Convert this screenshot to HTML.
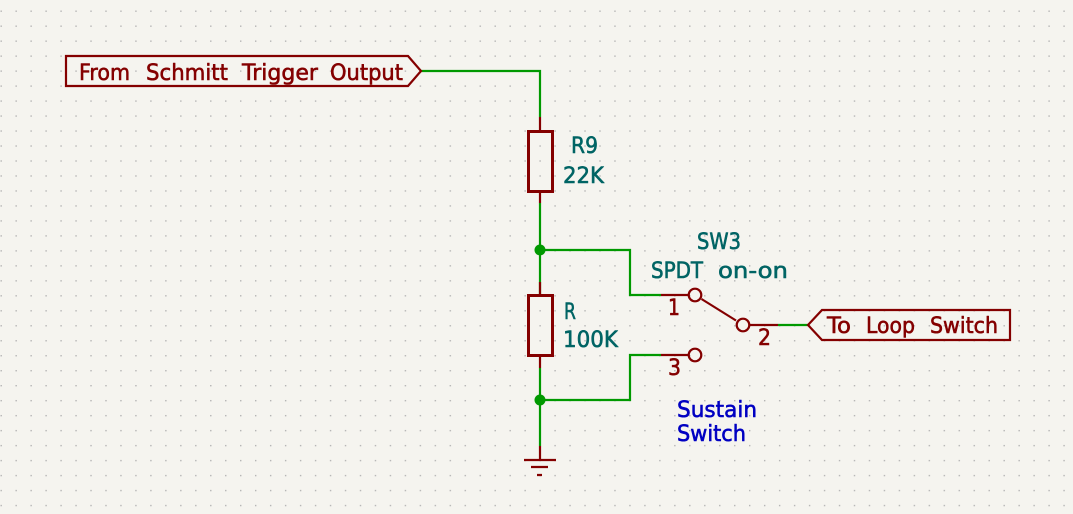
<!DOCTYPE html>
<html><head><meta charset="utf-8"><style>
html,body{margin:0;padding:0;background:#f5f4ef}
svg{display:block}
text{font-family:"DejaVu Sans","Liberation Sans",sans-serif;font-size:22.5px;stroke-width:.6px;stroke-linejoin:round}
.r{fill:#840000;stroke:#840000}.t{fill:#006464;stroke:#006464}.b{fill:#0000c2;stroke:#0000c2}
</style></head><body>
<svg width="1073" height="514" viewBox="0 0 1073 514" xmlns="http://www.w3.org/2000/svg">
<defs><pattern id="g" x="0.5" y="10.5" width="14.97" height="14.98" patternUnits="userSpaceOnUse"><rect width="1.4" height="1.4" fill="#b4b4b4"/></pattern></defs>
<rect width="1073" height="514" fill="#f5f4ef"/>
<rect width="1073" height="514" fill="url(#g)"/>

<!-- wires -->
<g fill="none" stroke="#009900" stroke-width="2.2">
<path d="M420 71H540V117"/>
<path d="M540 203V295"/>
<path d="M540 250H630V295H661"/>
<path d="M540 368V446"/>
<path d="M540 400H630V355H661"/>
<path d="M778 325H808"/>
</g>
<circle cx="540" cy="250" r="5.500" fill="#009900"/>
<circle cx="540" cy="400" r="5.500" fill="#009900"/>

<!-- symbols -->
<g fill="none" stroke="#840000" stroke-width="2.200">
<path d="M540 117V130M540 192V203"/>
<path d="M540 282V295M540 356V368"/>
<path d="M661 295H689M661 355H689M749 325H778"/>
<path d="M701.500 299L736 320.500"/>
<circle cx="695" cy="295" r="6.300"/>
<circle cx="743" cy="325" r="6.300"/>
<circle cx="695" cy="355" r="6.300"/>
<path d="M540 446V460M524 460H556M531 467H548M537 475H542"/>
<path d="M66 56H408L421 71L408 86H66Z"/>
<path d="M808 325L822 310H1010V340H822Z"/>
</g>
<g fill="none" stroke="#840000" stroke-width="3">
<rect x="528.500" y="131.500" width="24" height="60"/>
<rect x="528.500" y="295.500" width="24" height="60"/>
</g>

<!-- labels -->
<g class="r">
<text x="79" y="80" textLength="51" lengthAdjust="spacingAndGlyphs">From</text>
<text x="146" y="80" textLength="82" lengthAdjust="spacingAndGlyphs">Schmitt</text>
<text x="242" y="80" textLength="76" lengthAdjust="spacingAndGlyphs">Trigger</text>
<text x="330" y="80" textLength="73" lengthAdjust="spacingAndGlyphs">Output</text>
<text x="827" y="333" textLength="24" lengthAdjust="spacingAndGlyphs">To</text>
<text x="866" y="333" textLength="49" lengthAdjust="spacingAndGlyphs">Loop</text>
<text x="930" y="333" textLength="68" lengthAdjust="spacingAndGlyphs">Switch</text>
<text x="668" y="315" textLength="12" lengthAdjust="spacingAndGlyphs">1</text>
<text x="758" y="345" textLength="13" lengthAdjust="spacingAndGlyphs">2</text>
<text x="668" y="375" textLength="13" lengthAdjust="spacingAndGlyphs">3</text>
</g>
<g class="t">
<text x="571" y="153" textLength="27" lengthAdjust="spacingAndGlyphs">R9</text>
<text x="563" y="183" textLength="41" lengthAdjust="spacingAndGlyphs">22K</text>
<text x="564" y="319" textLength="12" lengthAdjust="spacingAndGlyphs">R</text>
<text x="563" y="347" textLength="55" lengthAdjust="spacingAndGlyphs">100K</text>
<text x="697" y="249" textLength="44" lengthAdjust="spacingAndGlyphs">SW3</text>
<text x="651" y="278" textLength="52" lengthAdjust="spacingAndGlyphs">SPDT</text>
<text x="718" y="278" textLength="70" lengthAdjust="spacingAndGlyphs">on-on</text>
</g>
<g class="b">
<text x="677" y="417" textLength="80" lengthAdjust="spacingAndGlyphs">Sustain</text>
<text x="677" y="441" textLength="69" lengthAdjust="spacingAndGlyphs">Switch</text>
</g>
</svg>
</body></html>
